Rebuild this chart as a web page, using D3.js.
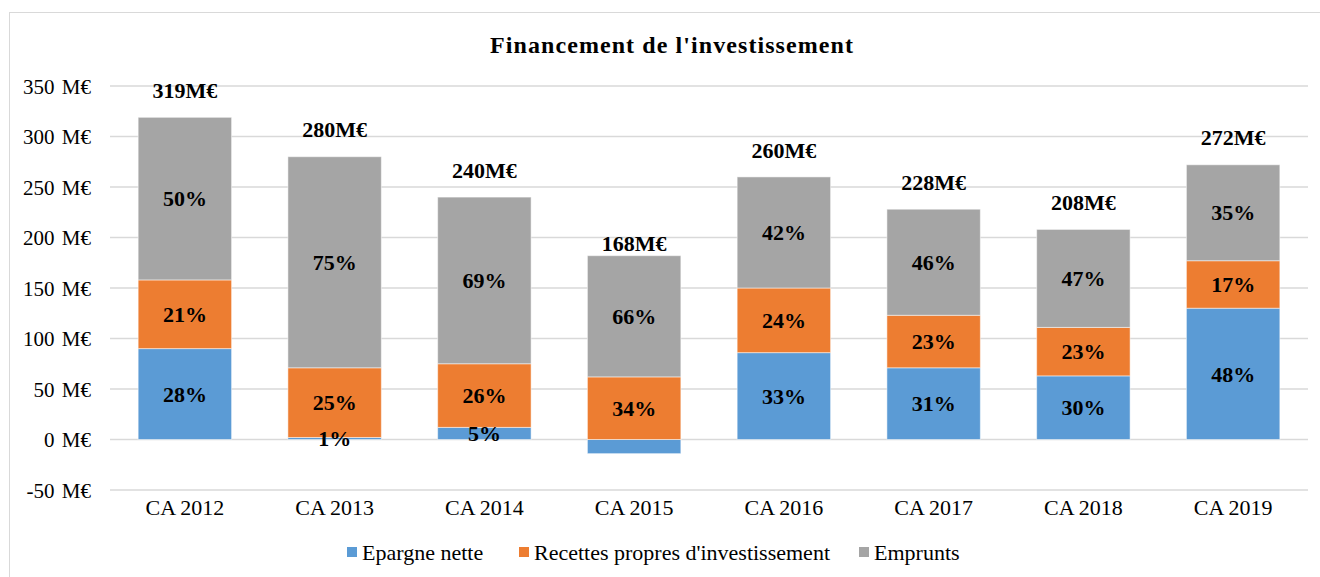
<!DOCTYPE html>
<html>
<head>
<meta charset="utf-8">
<script src="https://cdn.jsdelivr.net/npm/d3@7"></script>
<style>
  html, body { margin: 0; padding: 0; background: #fff; }
  svg { display: block; }
</style>
</head>
<body>
<svg id="chart" width="1320" height="577"></svg>
<script>
const categories = ["CA 2012", "CA 2013", "CA 2014", "CA 2015", "CA 2016", "CA 2017", "CA 2018", "CA 2019"];
const seriesNames = ["Epargne nette", "Recettes propres d'investissement", "Emprunts"];
const epargne = [90, 2, 12, -14, 86, 71, 63, 130];
const recettes = [68, 69, 63, 62, 64, 52, 48, 47];
const emprunts = [161, 209, 165, 120, 110, 105, 97, 95];
const pctEpargne = ["28%", "1%", "5%", "", "33%", "31%", "30%", "48%"];
const pctRecettes = ["21%", "25%", "26%", "34%", "24%", "23%", "23%", "17%"];
const pctEmprunts = ["50%", "75%", "69%", "66%", "42%", "46%", "47%", "35%"];
const totalLabels = ["319M€", "280M€", "240M€", "168M€", "260M€", "228M€", "208M€", "272M€"];
const yTicks = [-50, 0, 50, 100, 150, 200, 250, 300, 350];
const colors = ["#5B9BD5", "#ED7D31", "#A5A5A5"];

const svg = d3.select("#chart");
const FONT = "'Liberation Serif', 'Times New Roman', serif";

// chart border
svg.append("rect").attr("x", 9.5).attr("y", 12.5).attr("width", 1400).attr("height", 700)
  .attr("fill", "none").attr("stroke", "#D9D9D9").attr("stroke-width", 1);

const x = d3.scaleBand().domain(categories).range([110, 1308]).paddingInner(0.376).paddingOuter(0.188);
const y = d3.scaleLinear().domain([-50, 350]).range([490, 86]);

// gridlines
svg.append("g").selectAll("line").data(yTicks).join("line")
  .attr("x1", 110).attr("x2", 1308)
  .attr("y1", d => y(d)).attr("y2", d => y(d))
  .attr("stroke", "#D9D9D9").attr("stroke-width", 1.5);

// y axis labels
const yAxis = d3.axisLeft(y).tickValues(yTicks).tickSize(0).tickPadding(0)
  .tickFormat(d => d + " M€");
const gy = svg.append("g").attr("transform", "translate(91,0)").call(yAxis);
gy.select(".domain").remove();
gy.selectAll("text").attr("font-family", FONT).attr("font-size", 21).attr("fill", "#000")
  .attr("dy", "0.35em").style("word-spacing", "2px");

// x axis labels
const xAxis = d3.axisBottom(x).tickSize(0).tickPadding(0);
const gx = svg.append("g").attr("transform", "translate(0,500)").call(xAxis);
gx.select(".domain").remove();
gx.selectAll("text").attr("font-family", FONT).attr("font-size", 22).attr("fill", "#000").attr("dy", "0.7em");

// stacked data
const rows = categories.map((c, i) => ({ cat: c, s0: epargne[i], s1: recettes[i], s2: emprunts[i] }));
const stack = d3.stack().keys(["s0", "s1", "s2"]).offset(d3.stackOffsetDiverging);
const stacked = stack(rows);
const pcts = [pctEpargne, pctRecettes, pctEmprunts];

const layers = svg.append("g").selectAll("g").data(stacked).join("g")
  .attr("fill", (d, i) => colors[i]);
layers.selectAll("rect").data(d => d).join("rect")
  .attr("x", d => x(d.data.cat))
  .attr("width", x.bandwidth())
  .attr("y", d => y(Math.max(d[0], d[1])))
  .attr("height", d => Math.abs(y(d[0]) - y(d[1])))
  .attr("stroke", "#ffffff").attr("stroke-opacity", 0.5).attr("stroke-width", 1);

// percentage labels
const labG = svg.append("g");
stacked.forEach((layer, li) => {
  layer.forEach((d, i) => {
    const t = pcts[li][i];
    if (!t) return;
    labG.append("text")
      .attr("x", x(d.data.cat) + x.bandwidth() / 2)
      .attr("y", y((d[0] + d[1]) / 2))
      .attr("dy", "0.35em")
      .attr("text-anchor", "middle")
      .attr("font-family", FONT).attr("font-weight", "bold").attr("font-size", 22)
      .attr("fill", "#000")
      .text(t);
  });
});

// totals
const totals = categories.map((c, i) => epargne[i] + recettes[i] + emprunts[i]);
svg.append("g").selectAll("text").data(categories).join("text")
  .attr("x", d => x(d) + x.bandwidth() / 2)
  .attr("y", (d, i) => y(totals[i]) - 27)
  .attr("dy", "0.35em")
  .attr("text-anchor", "middle")
  .attr("font-family", FONT).attr("font-weight", "bold").attr("font-size", 22)
  .attr("fill", "#000")
  .text((d, i) => totalLabels[i]);

// title
svg.append("text").attr("x", 490).attr("y", 53)
  .attr("font-family", FONT).attr("font-weight", "bold").attr("font-size", 24)
  .attr("textLength", 363).attr("lengthAdjust", "spacing")
  .text("Financement  de l'investissement");

// legend
const legendX = [347, 519, 859];
const lg = svg.append("g").selectAll("g").data(seriesNames).join("g")
  .attr("transform", (d, i) => `translate(${legendX[i]},552)`);
lg.append("rect").attr("x", 0).attr("y", -5).attr("width", 10).attr("height", 10)
  .attr("fill", (d, i) => colors[i]);
lg.append("text").attr("x", 15).attr("y", 0).attr("dy", "0.35em")
  .attr("font-family", FONT).attr("font-size", 22).attr("fill", "#000")
  .text(d => d);
</script>
</body>
</html>
